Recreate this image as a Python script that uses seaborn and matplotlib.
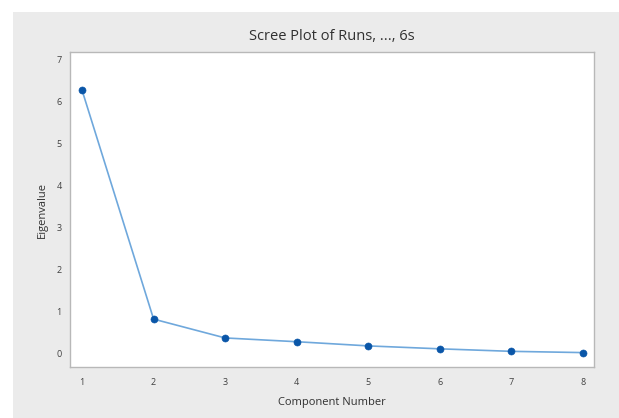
import pandas as pd
import matplotlib.pyplot as plt
import seaborn as sns
from matplotlib.patches import Rectangle

components = [1, 2, 3, 4, 5, 6, 7, 8]
eigenvalues = [6.28, 0.81, 0.36, 0.27, 0.17, 0.10, 0.04, 0.01]

df = pd.DataFrame({"Component Number": components, "Eigenvalue": eigenvalues})

sns.set_style("white")
plt.rcParams['font.family'] = ['Open Sans', 'DejaVu Sans']

fig = plt.figure(figsize=(6.19, 4.18), dpi=100)
fig.patch.set_facecolor("white")
# grey backdrop like the Minitab graph region
fig.patches.append(Rectangle((13 / 619, 0), 1, 1 - 12 / 418, transform=fig.transFigure,
                             facecolor="#ebebeb", edgecolor="none", zorder=-10))

ax = fig.add_axes([70 / 619, 51 / 418, 524 / 619, 315 / 418])
ax.set_zorder(1)
ax.set_facecolor("white")

sns.lineplot(data=df, x="Component Number", y="Eigenvalue", ax=ax,
             color="#6fa8dc", linewidth=1.2, zorder=2)
sns.scatterplot(data=df, x="Component Number", y="Eigenvalue", ax=ax,
                color="#0a56a8", s=26, edgecolor="#0a56a8", zorder=3)

ax.set_xlim(0.832, 8.154)
ax.set_ylim(-0.334, 7.19)
ax.set_xticks(components)
ax.set_yticks(range(0, 8))

for side in ax.spines.values():
    side.set_color("#b8b8b8")
    side.set_linewidth(1.0)

ax.tick_params(axis="both", direction="out", length=3, width=0.8, color="#a0a0a0",
               labelsize=6.5, labelcolor="#404040", pad=3)
ax.tick_params(axis="x", pad=5)

ax.set_xlabel("Component Number", fontsize=8, color="#303030", labelpad=7)
ax.set_ylabel("Eigenvalue", fontsize=8, color="#303030", labelpad=6)
ax.set_title("Scree Plot of Runs, ..., 6s", fontsize=10.5, color="#303030", pad=9)

plt.savefig("out.png", dpi=100)
